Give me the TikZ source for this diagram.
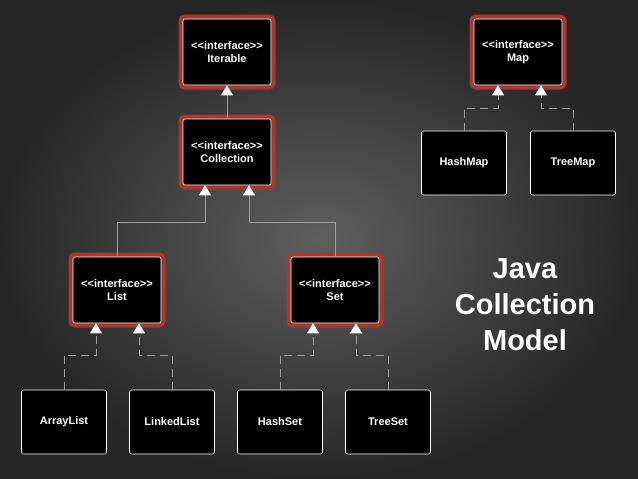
\documentclass[tikz,border=0pt]{standalone}
\usepackage{fontspec}
\setmainfont{Liberation Sans}
\usetikzlibrary{arrows.meta,positioning}
\definecolor{framered}{HTML}{A8392C}
\newcommand{\iflabel}{<\kern0pt<interface>\kern0pt>}
\tikzset{%
    every node/.style={font=\fontsize{11}{13}\selectfont\bfseries, text=white,
    	align=center},
    cls/.style={rectangle, rounded corners=2pt, fill=black, draw=white!85,
    	line width=.6pt, minimum width=85pt, minimum height=64pt},
    iface/.style={cls, minimum width=88pt, minimum height=66pt,
    	preaction={draw=framered, line width=9pt, rounded corners=4pt}},
    inherit/.style={draw=gray!75, line width=.8pt,
    	-{Triangle[length=10pt,width=12pt,fill=white,color=white]}},
    impl/.style={inherit, dashed, dash pattern=on 8pt off 5pt}
}
\begin{document}
\begin{tikzpicture}[x=1pt, y=-1pt]
  \shade[inner color=gray!75!black, outer color=black!85]
    (0,0) rectangle (638,479);
  \useasboundingbox (0,0) rectangle (638,479);

  \node (iter) [iface] at (227,52) {\iflabel\\Iterable};
  \node (coll) [iface] at (227,152) {\iflabel\\Collection};
  \node (map) [iface] at (518,52) {\iflabel\\Map};
  \node (list) [iface] at (117,290) {\iflabel\\List};
  \node (set) [iface] at (335,290) {\iflabel\\Set};

  \node (hmap) [cls] at (464,163) {HashMap};
  \node (tmap) [cls] at (573,163) {TreeMap};
  \node (alist) [cls] at (64,422) {ArrayList};
  \node (llist) [cls] at (172,422) {LinkedList};
  \node (hset) [cls] at (280,422) {HashSet};
  \node (tset) [cls] at (388,422) {TreeSet};

  \node (title) [font=\fontsize{29}{36}\selectfont\bfseries] at (525,305)
    {Java\\Collection\\Model};

  \draw [inherit] (coll.north) -- (iter.south);
  \draw [inherit] (list.north) |- (205,222) -- (coll.south -| 205,0);
  \draw [inherit] (set.north) |- (249,222) -- (coll.south -| 249,0);

  \draw [impl] (alist.north) |- (96,355) -- (list.south -| 96,0);
  \draw [impl] (llist.north) |- (139,355) -- (list.south -| 139,0);
  \draw [impl] (hset.north) |- (313,355) -- (set.south -| 313,0);
  \draw [impl] (tset.north) |- (356,355) -- (set.south -| 356,0);
  \draw [impl] (hmap.north) |- (498,108) -- (map.south -| 498,0);
  \draw [impl] (tmap.north) |- (541,108) -- (map.south -| 541,0);
\end{tikzpicture}
\end{document}
